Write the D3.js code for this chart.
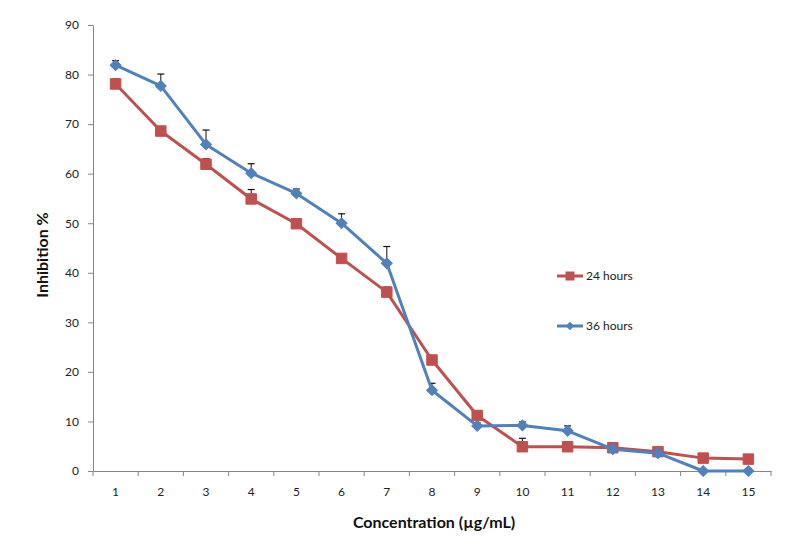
<!DOCTYPE html>
<html><head><meta charset="utf-8">
<script src="https://cdn.jsdelivr.net/npm/d3@7"></script>
<style>body{margin:0;background:#fff}svg{display:block}</style>
</head><body>
<svg id="c" width="789" height="548"></svg>
<script>
const categories = ["1","2","3","4","5","6","7","8","9","10","11","12","13","14","15"];
const hours24 = [78.1, 68.6, 61.9, 54.9, 49.9, 42.9, 36.1, 22.4, 11.2, 4.9, 4.9, 4.7, 3.9, 2.6, 2.4];
const err24   = [1.0, 0.9, 1.1, 1.9, 0.3, 0.3, 1.0, 0.3, 0.3, 1.7, 0.3, 0.2, 0.2, 0.2, 0.2];
const hours36 = [81.9, 77.7, 65.9, 60.1, 56.0, 50.0, 41.9, 16.3, 9.1, 9.2, 8.1, 4.4, 3.6, 0, 0];
const err36   = [0.9, 2.4, 2.9, 1.9, 0.9, 1.9, 3.4, 1.4, 0.6, 0.7, 1.0, 0.3, 0.3, 0.3, 0.5];
const yTicks  = [0,10,20,30,40,50,60,70,80,90];
const seriesNames = ["24 hours","36 hours"];
const colors = ["#C0504D","#4F81BD"];

const svg = d3.select("#c");
const mLeft = 93, mRight = 771, mTop = 25, mBottom = 471;
const x = d3.scaleBand().domain(categories).range([mLeft, mRight]).padding(0);
const y = d3.scaleLinear().domain([0, 90]).range([mBottom, mTop]);
const font = "Lato, 'Open Sans', sans-serif";

// Y axis
const yAxis = svg.append("g").attr("transform", `translate(${mLeft},0)`)
  .call(d3.axisLeft(y).tickValues(yTicks).tickSize(5).tickSizeOuter(0).tickPadding(9));
yAxis.select(".domain").attr("stroke", "#868686");
yAxis.selectAll(".tick line").attr("stroke", "#868686");
yAxis.selectAll("text").attr("font-family", font).attr("font-size", 12).attr("fill", "#222");

// X axis
const xAxis = svg.append("g").attr("transform", `translate(0,${mBottom})`)
  .call(d3.axisBottom(x).tickSize(0).tickSizeOuter(0).tickPadding(16));
xAxis.select(".domain").attr("stroke", "#868686");
xAxis.selectAll("text").attr("font-family", font).attr("font-size", 12).attr("fill", "#222");
const bounds = categories.map(c => x(c)).concat([mRight]);
xAxis.selectAll(".bt").data(bounds).enter().append("line")
  .attr("x1", d => d).attr("x2", d => d).attr("y1", 0).attr("y2", 5)
  .attr("stroke", "#868686");

const cx = c => x(c) + x.bandwidth() / 2;

function drawSeries(vals, errs, color, shape) {
  const g = svg.append("g");
  vals.forEach((v, i) => {
    const xx = cx(categories[i]);
    g.append("line").attr("x1", xx).attr("x2", xx).attr("y1", y(v)).attr("y2", y(v + errs[i]))
      .attr("stroke", "#111").attr("stroke-width", 1);
    g.append("line").attr("x1", xx - 3.5).attr("x2", xx + 3.5).attr("y1", y(v + errs[i])).attr("y2", y(v + errs[i]))
      .attr("stroke", "#111").attr("stroke-width", 1.2);
  });
  const line = d3.line().x((d, i) => cx(categories[i])).y(d => y(d));
  g.append("path").datum(vals).attr("d", line).attr("fill", "none")
    .attr("stroke", color).attr("stroke-width", 3).attr("stroke-linejoin", "round");
  const sym = d3.symbol().type(d3.symbolSquare).size(shape === "square" ? 110 : 58);
  g.selectAll(".m").data(vals).enter().append("path")
    .attr("d", sym)
    .attr("transform", (d, i) => `translate(${cx(categories[i])},${y(d)})` + (shape === "square" ? "" : " rotate(45)"))
    .attr("fill", color).attr("stroke", color).attr("stroke-width", 1);
}
drawSeries(hours24, err24, colors[0], "square");
drawSeries(hours36, err36, colors[1], "diamond");

// legend
const legY = [276, 326];
seriesNames.forEach((n, i) => {
  const g = svg.append("g").attr("transform", `translate(557,${legY[i]})`);
  g.append("line").attr("x1", 0).attr("x2", 26).attr("stroke", colors[i]).attr("stroke-width", 3);
  g.append("path").attr("transform", "translate(13,0)" + (i === 0 ? "" : " rotate(45)"))
    .attr("d", d3.symbol().type(d3.symbolSquare).size(i === 0 ? 80 : 36))
    .attr("fill", colors[i]);
  g.append("text").attr("x", 29).attr("y", 4).text(n)
    .attr("font-family", font).attr("font-size", 12).attr("fill", "#222");
});

// axis titles
svg.append("text").attr("x", 434).attr("y", 528).attr("text-anchor", "middle")
  .attr("font-family", font).attr("font-weight", "bold").attr("font-size", 16).attr("fill", "#111")
  .text("Concentration (µg/mL)");
svg.append("text").attr("transform", "translate(48,255) rotate(-90)").attr("text-anchor", "middle")
  .attr("font-family", font).attr("font-weight", "bold").attr("font-size", 16).attr("fill", "#111")
  .text("Inhibition %");
</script>
</body></html>
